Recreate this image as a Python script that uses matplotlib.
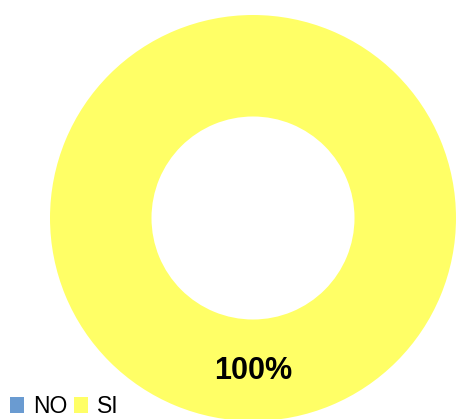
import matplotlib
matplotlib.use("Agg")
import matplotlib.pyplot as plt
from matplotlib.patches import Patch

categories = ["NO", "SI"]
values = [0, 100]
colors = ["#6A9BD1", "#FFFF66"]

plt.rcParams["font.family"] = ["Liberation Sans", "DejaVu Sans"]

W, H = 457, 419
fig = plt.figure(figsize=(W / 100, H / 100), dpi=100)

# donut centred at (253, 218) px with outer radius 203 px
cx, cy, R = 253, 218, 203
ax = fig.add_axes([(cx - R) / W, (H - cy - R) / H, 2 * R / W, 2 * R / H])

wedges, _, autotexts = ax.pie(
    values,
    colors=colors,
    startangle=90,
    counterclock=False,
    radius=1,
    wedgeprops=dict(width=0.5, edgecolor="none"),
    autopct=lambda p: f"{p:.0f}%" if p > 0 else "",
    pctdistance=0.755,
)
for t in autotexts:
    t.set_fontsize(22)
    t.set_fontweight("bold")
    t.set_color("black")
ax.set_xlim(-1, 1)
ax.set_ylim(-1, 1)
ax.axis("off")

handles = [Patch(facecolor=c, edgecolor="none") for c in colors]
fig.legend(
    handles, categories,
    loc="lower left", bbox_to_anchor=(-0.008, -0.03),
    ncol=2, frameon=False, fontsize=16.5,
    handlelength=0.6, handleheight=0.7, handletextpad=0.4,
    columnspacing=0.3, borderaxespad=0.2,
)

fig.savefig("out.png", dpi=100)
